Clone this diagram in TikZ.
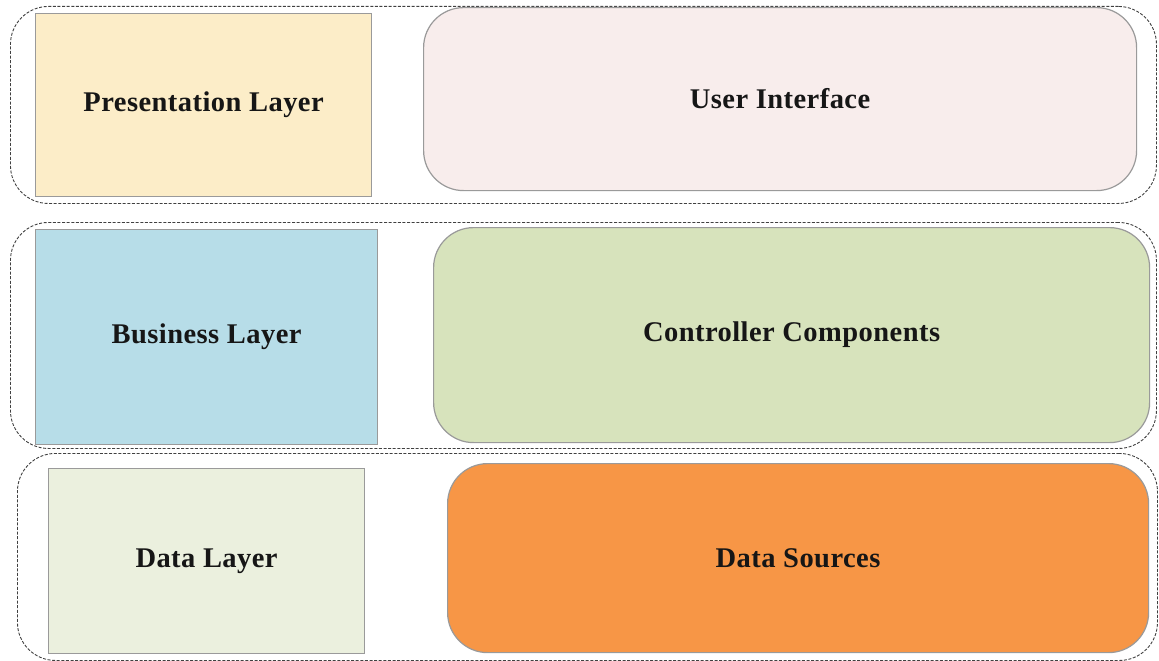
\documentclass[tikz,border=0pt]{standalone}
\usepackage{fontspec}
\setmainfont[LetterSpace=1.6]{Liberation Serif}
\definecolor{presfill}{HTML}{FCEDC8}
\definecolor{uifill}{HTML}{F8EDEC}
\definecolor{busfill}{HTML}{B7DDE8}
\definecolor{ctrlfill}{HTML}{D7E3BC}
\definecolor{datafill}{HTML}{EBF0DE}
\definecolor{srcfill}{HTML}{F79646}
\definecolor{edgegray}{HTML}{9A9A9A}
\definecolor{txt}{HTML}{161616}
\tikzset{
  layerbox/.style={draw=edgegray, line width=1.2pt, inner sep=0pt, anchor=north west,
    text=txt, font=\fontsize{28.5}{34}\selectfont\bfseries},
  partbox/.style={layerbox, rounded corners=40pt},
  groupbox/.style={draw=black!75, dash pattern=on 3pt off 1.6pt, line width=0.9pt,
    rounded corners=38pt, inner sep=0pt, anchor=north west},
}
\begin{document}
\begin{tikzpicture}[x=1pt, y=-1pt]
  \useasboundingbox (0,0) rectangle (1159,661);

  % dashed tier outlines
  \node[groupbox, minimum width=1146pt, minimum height=197pt] (g1) at (10,6) {};
  \node[groupbox, minimum width=1146pt, minimum height=226pt] (g2) at (10,222) {};
  \node[groupbox, minimum width=1140pt, minimum height=207pt] (g3) at (17,453) {};

  % presentation tier
  \node[layerbox, fill=presfill, minimum width=336pt, minimum height=183pt] (pres) at (35,13) {Presentation Layer};
  \node[partbox, fill=uifill, minimum width=713pt, minimum height=183pt] (ui) at (423,7) {User Interface};

  % business tier
  \node[layerbox, fill=busfill, minimum width=342pt, minimum height=215pt] (bus) at (35,229) {Business Layer};
  \node[partbox, fill=ctrlfill, minimum width=716pt, minimum height=215pt] (ctrl) at (433,227) {Controller Components};

  % data tier
  \node[layerbox, fill=datafill, minimum width=316pt, minimum height=185pt] (dl) at (48,468) {Data Layer};
  \node[partbox, fill=srcfill, minimum width=701pt, minimum height=189pt] (src) at (447,463) {Data Sources};
\end{tikzpicture}
\end{document}
